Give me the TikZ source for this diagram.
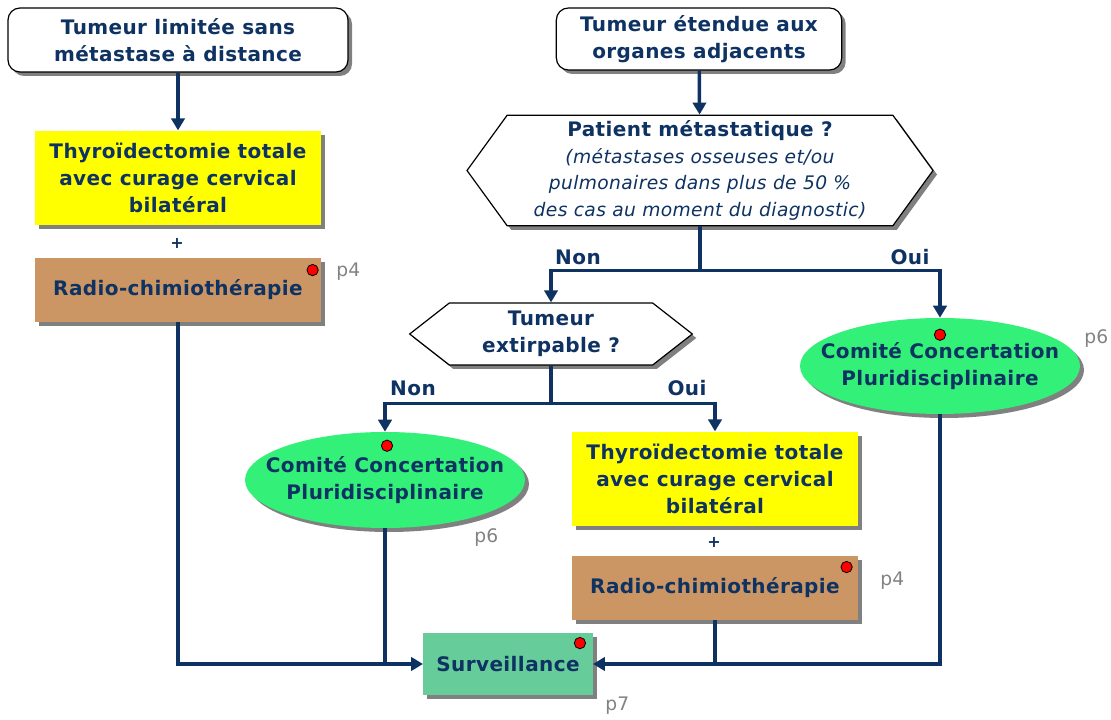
\documentclass[tikz,border=0pt]{standalone}
\usepackage{fontspec}
\setmainfont{DejaVu Sans}[LetterSpace=2]
\usetikzlibrary{calc}
\usetikzlibrary{positioning}
\usetikzlibrary{shapes}
\usetikzlibrary{shadows}
\usetikzlibrary{arrows.meta}
\definecolor{navy}{RGB}{14,50,98}
\definecolor{treatyellow}{RGB}{255,255,0}
\definecolor{radiobrown}{RGB}{204,150,100}
\definecolor{ccpgreen}{RGB}{51,240,120}
\definecolor{survgreen}{RGB}{102,204,153}
\definecolor{refgray}{RGB}{130,130,130}
\newcommand*\detail[1]{{\fontsize{14pt}{20pt}\selectfont\mdseries\itshape #1}}

\begin{document}
\begin{tikzpicture}
    [%
        x=0.75pt,y=-0.75pt,%
        every node/.style={%
            text=navy,%
            font=\fontsize{15pt}{20pt}\selectfont\bfseries,%
            align=center,%
            inner sep=0pt%
        },%
        shade box/.style={%
            drop shadow={shadow xshift=3pt,shadow yshift=-3pt,fill=gray,opacity=1}%
        },%
        start box/.style={%
            shade box,%
            draw=black,%
            line width=0.9pt,%
            fill=white,%
            rounded corners=9pt%
        },%
        treat box/.style={%
            shade box,%
            fill=treatyellow,%
            minimum width=215pt,%
            minimum height=71pt%
        },%
        radio box/.style={%
            shade box,%
            fill=radiobrown,%
            minimum width=215pt,%
            minimum height=47.5pt%
        },%
        question/.style={%
            shade box,%
            draw=black,%
            line width=0.9pt,%
            fill=white,%
            signal,%
            signal to=west and east%
        },%
        ccp/.style={%
            shade box,%
            ellipse,%
            fill=ccpgreen,%
            inner xsep=-20pt,%
            minimum width=210pt,%
            minimum height=72pt%
        },%
        rdv dot/.style={%
            circle,%
            draw=black,%
            line width=0.6pt,%
            fill=red,%
            minimum size=8.5pt%
        },%
        page ref/.style={%
            text=refgray,%
            font=\fontsize{14pt}{16pt}\selectfont\mdseries,%
            anchor=west%
        },%
        conn line/.style={%
            draw=navy,%
            line width=2.6pt%
        },%
        conn arrow/.style={%
            conn line,%
            -{Triangle[width=10pt,length=9pt]}%
        }%
    ]%
%
    \useasboundingbox (0,0) rectangle (1111,720);
    % left branch
    \node[start box,minimum width=255pt,minimum height=48pt] (limitee) at (178,40)
        {Tumeur limitée sans\\métastase à distance};
    \node[treat box] (thyro-g) at (178,178)
        {Thyroïdectomie totale\\avec curage cervical\\bilatéral};
    \node[font=\fontsize{12pt}{14pt}\selectfont\bfseries] (plus-g) at (177,243) {+};
    \node[radio box] (radio-g) at (178,290) {Radio-chimiothérapie};
    % right branch
    \node[start box,minimum width=214pt,minimum height=46.5pt] (etendue) at (699,39)
        {Tumeur étendue aux\\organes adjacents};
    \node[question,minimum width=349.5pt,minimum height=83pt,signal pointer angle=108]
        (metast) at (700,170.5)
        {Patient métastatique ?\\\detail{(métastases osseuses et/ou}\\
         \detail{pulmonaires dans plus de 50 \%}\\\detail{des cas au moment du diagnostic)}};
    \node[question,minimum width=212pt,minimum height=46.5pt,signal pointer angle=76]
        (extirp) at (551,334) {Tumeur\\extirpable ?};
    \node[ccp] (ccp-d) at (940,366) {Comité Concertation\\Pluridisciplinaire};
    \node[ccp] (ccp-g) at (385,480) {Comité Concertation\\Pluridisciplinaire};
    \node[treat box] (thyro-d) at (715,479)
        {Thyroïdectomie totale\\avec curage cervical\\bilatéral};
    \node[font=\fontsize{12pt}{14pt}\selectfont\bfseries] (plus-d) at (714,542) {+};
    \node[radio box] (radio-d) at (715,588) {Radio-chimiothérapie};
    \node[shade box,fill=survgreen,minimum width=127pt,minimum height=46pt] (surv)
        at (508,664) {Surveillance};
%
    % branch labels
    \node (non-a) at (578,257) {Non};
    \node (oui-a) at (910,257) {Oui};
    \node (non-b) at (413,388) {Non};
    \node (oui-b) at (687,388) {Oui};
%
    % red dots and page references
    % \nodename node, \dx/\dy offset of the dot from its corner
    \foreach \nodename/\corner/\dx/\dy in {%
        radio-g/north east/-9/12,%
        radio-d/north east/-12/11,%
        surv/north east/-13/10,%
        ccp-d/north/0/17,%
        ccp-g/north/2/14%
    }{%
        \node[rdv dot] (\nodename-dot) at ($(\nodename.\corner)+(\dx,\dy)$) {};
    } % \foreach \nodename
    \node[page ref] (ref-radio-g) at (336,272) {p4};
    \node[page ref] (ref-radio-d) at (880,581) {p4};
    \node[page ref] (ref-ccp-d) at (1084,339) {p6};
    \node[page ref] (ref-ccp-g) at (474,538) {p6};
    \node[page ref] (ref-surv) at (605,706) {p7};
%
    % connectors
    \draw[conn arrow] (limitee) -- (thyro-g);
    \draw[conn arrow] (etendue) -- (metast);
    \draw[conn line] (metast.south) -- ++(0,44) coordinate (fork-a);
    \draw[conn arrow] (fork-a) -| (extirp);
    \draw[conn arrow] (fork-a) -| (ccp-d);
    \draw[conn line] (extirp.south) -- ++(0,38) coordinate (fork-b);
    \draw[conn arrow] (fork-b) -| (ccp-g);
    \draw[conn arrow] (fork-b) -| (thyro-d);
    \draw[conn arrow] (radio-g) |- (surv);
    \draw[conn arrow] (ccp-d) |- (surv);
    \draw[conn line] (ccp-g) -- (ccp-g |- surv);
    \draw[conn line] (radio-d) -- (radio-d |- surv);
\end{tikzpicture}
\end{document}
